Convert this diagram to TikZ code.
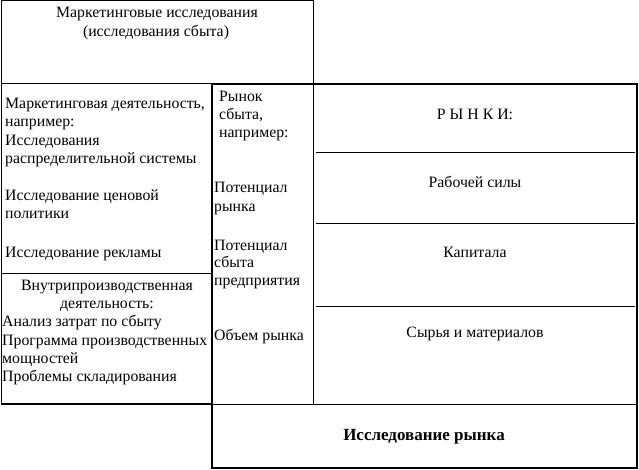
\documentclass[tikz,border=0pt]{standalone}
\usepackage{fontspec}
\setmainfont{Liberation Serif}
\begin{document}
\begin{tikzpicture}[x=1pt,y=-1pt,
  lbl/.style={inner sep=0pt,anchor=base west,font=\fontsize{15.8}{18}\selectfont},
  clbl/.style={inner sep=0pt,anchor=base,font=\fontsize{15.8}{18}\selectfont},
  thinline/.style={line width=1pt},
  thickline/.style={line width=2pt}]

\useasboundingbox (0,0) rectangle (639,470);

%draws the boxes
\draw[thinline] (1,1) rectangle (313,84);
\draw[thinline] (1,84) -- (1,404);
\draw[thinline] (1,273) -- (212,273);
\draw[line width=1.5pt] (1,404) -- (212,404);
\draw[thickline] (212,84) rectangle (637,468);
\draw[thinline] (313,84) -- (313,404);
\draw[thinline] (212,404) -- (636,404);

%draws the lines of the markets column
\foreach \y in {153,224,306}
    \draw[thinline] (316,\y) -- (635,\y);

%label top box
\node[clbl] (mi1) at (157,18) {Маркетинговые исследования};
\node[clbl] (mi2) at (156,36.5) {(исследования сбыта)};

%label marketing activity
\node[lbl] (ma1) at (5,109) {Маркетинговая деятельность,};
\node[lbl] (ma2) at (5,127) {например:};
\node[lbl] (ma3) at (5,145.5) {Исследования};
\node[lbl] (ma4) at (5,164) {распределительной системы};
\node[lbl] (ma5) at (5,200.5) {Исследование ценовой};
\node[lbl] (ma6) at (5,218.5) {политики};
\node[lbl] (ma7) at (5,257) {Исследование рекламы};

%label internal activity
\node[clbl] (ia1) at (107,290) {Внутрипроизводственная};
\node[clbl] (ia2) at (107,308) {деятельность:};
\node[lbl] (ia3) at (2,326.5) {Анализ затрат по сбыту};
\node[lbl] (ia4) at (2,345) {Программа производственных};
\node[lbl] (ia5) at (2,363) {мощностей};
\node[lbl] (ia6) at (2,381.5) {Проблемы складирования};

%label sales market column
\node[lbl] (sm1) at (219,101.5) {Рынок};
\node[lbl] (sm2) at (219,120) {сбыта,};
\node[lbl] (sm3) at (219,138) {например:};
\node[lbl] (sm4) at (214,193) {Потенциал};
\node[lbl] (sm5) at (214,211.5) {рынка};
\node[lbl] (sm6) at (214,250) {Потенциал};
\node[lbl] (sm7) at (214,267.5) {сбыта};
\node[lbl] (sm8) at (214,285.5) {предприятия};
\node[lbl] (sm9) at (214,340) {Объем рынка};

%label markets column
\node[clbl] (mk1) at (475,120) {Р Ы Н К И:};
\node[clbl] (mk2) at (475,188) {Рабочей силы};
\node[clbl] (mk3) at (475,257) {Капитала};
\node[clbl] (mk4) at (475,337) {Сырья и материалов};
\node[clbl,font=\fontsize{17}{18}\selectfont\bfseries] (mr) at (424,440) {Исследование рынка};

\end{tikzpicture}
\end{document}
